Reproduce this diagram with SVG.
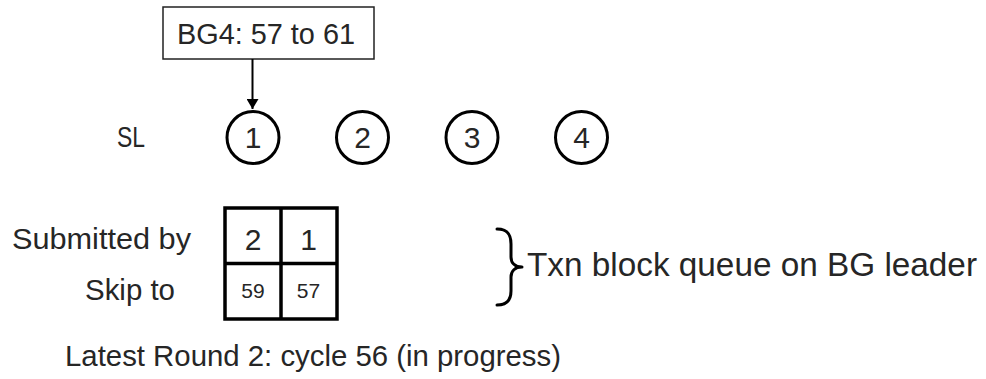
<svg xmlns="http://www.w3.org/2000/svg" width="986" height="379" viewBox="0 0 986 379">
  <defs>
    <style>
      text { font-family: "Liberation Sans", Arial, sans-serif; fill: #262626; }
      .lbl { font-size: 30px; }
      .big { font-size: 33px; }
      .num { font-size: 30px; text-anchor: middle; }
      .small { font-size: 21px; text-anchor: middle; }
      .ring { fill: #fff; stroke: #000; stroke-width: 3; }
      .cell { fill: none; stroke: #000; stroke-width: 3.5; }
    </style>
    <marker id="arrowHead" viewBox="0 0 10 12" refX="10" refY="6" markerWidth="10" markerHeight="12" markerUnits="userSpaceOnUse" orient="auto">
      <path d="M0,0 L10,6 L0,12 z" fill="#000"/>
    </marker>
  </defs>
  <rect width="986" height="379" fill="#fff"/>

  <!-- range box -->
  <g id="range-box">
    <rect x="163" y="7" width="211" height="52" fill="#fff" stroke="#222" stroke-width="1.5"/>
    <text class="lbl" x="177" y="44" font-size="29" textLength="178" lengthAdjust="spacingAndGlyphs">BG4: 57 to 61</text>
  </g>

  <!-- connectors -->
  <g id="connectors">
    <line x1="252.5" y1="59" x2="252.5" y2="109" stroke="#000" stroke-width="2" marker-end="url(#arrowHead)"/>
  </g>

  <!-- SL row -->
  <g id="sl-label">
    <text class="lbl" x="117" y="147" textLength="28" lengthAdjust="spacingAndGlyphs">SL</text>
  </g>
  <g id="sl-1">
    <circle class="ring" cx="253" cy="137.5" r="26"/>
    <text class="num" x="253" y="148">1</text>
  </g>
  <g id="sl-2">
    <circle class="ring" cx="362.5" cy="137.5" r="26"/>
    <text class="num" x="362.5" y="148">2</text>
  </g>
  <g id="sl-3">
    <circle class="ring" cx="472" cy="137.5" r="26"/>
    <text class="num" x="472" y="148">3</text>
  </g>
  <g id="sl-4">
    <circle class="ring" cx="581.5" cy="137.5" r="26"/>
    <text class="num" x="581.5" y="148">4</text>
  </g>

  <!-- queue table -->
  <g id="row-labels">
    <text class="lbl" x="12" y="249" textLength="179" lengthAdjust="spacingAndGlyphs">Submitted by</text>
    <text class="lbl" x="85" y="300" textLength="90" lengthAdjust="spacingAndGlyphs">Skip to</text>
  </g>
  <g id="queue-table">
    <rect class="cell" x="225" y="208" width="112" height="111"/>
    <line class="cell" x1="281" y1="208" x2="281" y2="319"/>
    <line class="cell" x1="225" y1="263.5" x2="337" y2="263.5"/>
    <text class="num" x="253" y="250">2</text>
    <text class="num" x="308.5" y="250">1</text>
    <text class="small" x="253" y="298">59</text>
    <text class="small" x="308.5" y="298">57</text>
  </g>

  <!-- brace and caption -->
  <g id="queue-caption">
    <path d="M497,229 C507,229 511,234 511,244 L511,257 C511,263 515,267 522,267 C515,267 511,271 511,277 L511,291 C511,300 507,305 497,305" fill="none" stroke="#000" stroke-width="3" stroke-linecap="round" stroke-linejoin="round"/>
    <text class="big" x="527" y="276" textLength="450" lengthAdjust="spacingAndGlyphs">Txn block queue on BG leader</text>
  </g>

  <!-- status line -->
  <g id="status">
    <text class="lbl" x="65" y="366" textLength="496" lengthAdjust="spacingAndGlyphs">Latest Round 2: cycle 56 (in progress)</text>
  </g>
</svg>
